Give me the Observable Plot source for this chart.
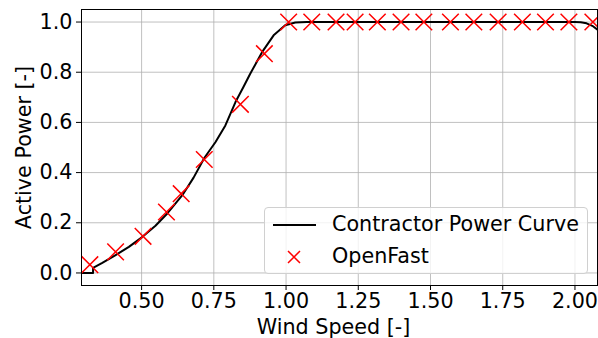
<!DOCTYPE html>
<html>
<head>
<meta charset="utf-8">
<script src="https://cdn.jsdelivr.net/npm/d3@7"></script>
<script src="https://cdn.jsdelivr.net/npm/@observablehq/plot@0.6"></script>
<style>
  html, body { margin: 0; padding: 0; background: #fff; }
  #wrap { position: relative; width: 598px; height: 338px; font-family: "DejaVu Sans", sans-serif; }
  #legend { position: absolute; left: 264px; top: 207px; width: 324px; height: 67px;
    border: 1px solid #d0d0d0; border-radius: 4px; background: rgba(255,255,255,0.8);
    font-size: 20.7px; color: #000; box-sizing: border-box; }
  .item { position: absolute; left: 0; height: 30px; width: 100%; }
  .item svg { position: absolute; left: 7px; top: 0; }
  .item span { position: absolute; left: 67px; top: 2px; white-space: nowrap; }
</style>
</head>
<body>
<div id="wrap"></div>
<script>
// Contractor power curve (wind speed normalised, active power normalised)
const curveX = [0.292, 0.332, 0.332, 0.364, 0.41, 0.456, 0.502, 0.548, 0.589, 0.641, 0.68, 0.717, 0.756, 0.790, 0.825, 0.852, 0.876, 0.917, 0.957, 0.997, 1.032, 1.072, 1.2, 1.5, 1.8, 2.0, 2.02, 2.04, 2.06, 2.078];
const curveY = [0, 0, 0.02, 0.04, 0.071, 0.104, 0.143, 0.188, 0.237, 0.31, 0.38, 0.458, 0.522, 0.588, 0.681, 0.74, 0.794, 0.880, 0.947, 0.987, 0.998, 1, 1, 1, 1, 1, 0.999, 0.995, 0.985, 0.97];
// OpenFast simulation points
const openFastX = [0.321, 0.41, 0.505, 0.586, 0.637, 0.717, 0.842, 0.925, 1.009, 1.089, 1.173, 1.239, 1.316, 1.398, 1.477, 1.569, 1.650, 1.734, 1.818, 1.898, 1.979, 2.062];
const openFastY = [0.033, 0.084, 0.146, 0.243, 0.316, 0.452, 0.672, 0.874, 1.0, 1.0, 1.0, 1.0, 1.0, 1.0, 1.0, 1.0, 1.0, 1.0, 1.0, 1.0, 1.0, 1.0];
const xTicks = [0.5, 0.75, 1.0, 1.25, 1.5, 1.75, 2.0];
const yTicks = [0.0, 0.2, 0.4, 0.6, 0.8, 1.0];
const seriesNames = ["Contractor Power Curve", "OpenFast"];
const xLabel = "Wind Speed [-]";
const yLabel = "Active Power [-]";

const curve = curveX.map((x, i) => ({x, y: curveY[i]}));
const pts = openFastX.map((x, i) => ({x, y: openFastY[i]}));
const FS = 20.7;

const chart = Plot.plot({
  width: 598,
  height: 338,
  marginLeft: 81,
  marginRight: 1,
  marginTop: 9,
  marginBottom: 53,
  style: {fontFamily: "DejaVu Sans, sans-serif", fontSize: FS + "px", color: "#000", background: "#fff"},
  x: {domain: [0.292, 2.078]},
  y: {domain: [-0.05, 1.05]},
  marks: [
    Plot.gridX(xTicks, {stroke: "#b0b0b0", strokeOpacity: 1, strokeWidth: 0.8}),
    Plot.gridY(yTicks, {stroke: "#b0b0b0", strokeOpacity: 1, strokeWidth: 0.8}),
    Plot.axisX({ticks: xTicks, tickFormat: d => d.toFixed(2), tickSize: 5, tickPadding: 3, label: null, fontSize: FS}),
    Plot.axisY({ticks: yTicks, tickFormat: d => d.toFixed(1), tickSize: 5, tickPadding: 4, label: null, fontSize: FS}),
    Plot.line(curve, {x: "x", y: "y", stroke: "black", strokeWidth: 2, clip: true}),
    Plot.dot(pts, {x: "x", y: "y", symbol: "times", r: 7.6, stroke: "red", strokeWidth: 1.5, clip: true}),
    Plot.frame({stroke: "black", strokeWidth: 1}),
    Plot.text([xLabel], {text: d => d, frameAnchor: "bottom", textAnchor: "middle", dx: -6, dy: 42, fontSize: FS, lineAnchor: "middle"}),
    Plot.text([yLabel], {text: d => d, frameAnchor: "left", textAnchor: "middle", dx: -57, rotate: -90, fontSize: FS})
  ]
});

const wrap = document.getElementById("wrap");
wrap.appendChild(chart);

const legend = document.createElement("div");
legend.id = "legend";
legend.innerHTML = `
  <div class="item" style="top:2px">
    <svg width="46" height="30"><line x1="1" x2="44" y1="15" y2="15" stroke="black" stroke-width="2"/></svg>
    <span>${seriesNames[0]}</span>
  </div>
  <div class="item" style="top:34px">
    <svg width="46" height="30"><path d="M16,9L28,21M28,9L16,21" stroke="red" stroke-width="1.5" fill="none"/></svg>
    <span>${seriesNames[1]}</span>
  </div>`;
wrap.appendChild(legend);
</script>
</body>
</html>
